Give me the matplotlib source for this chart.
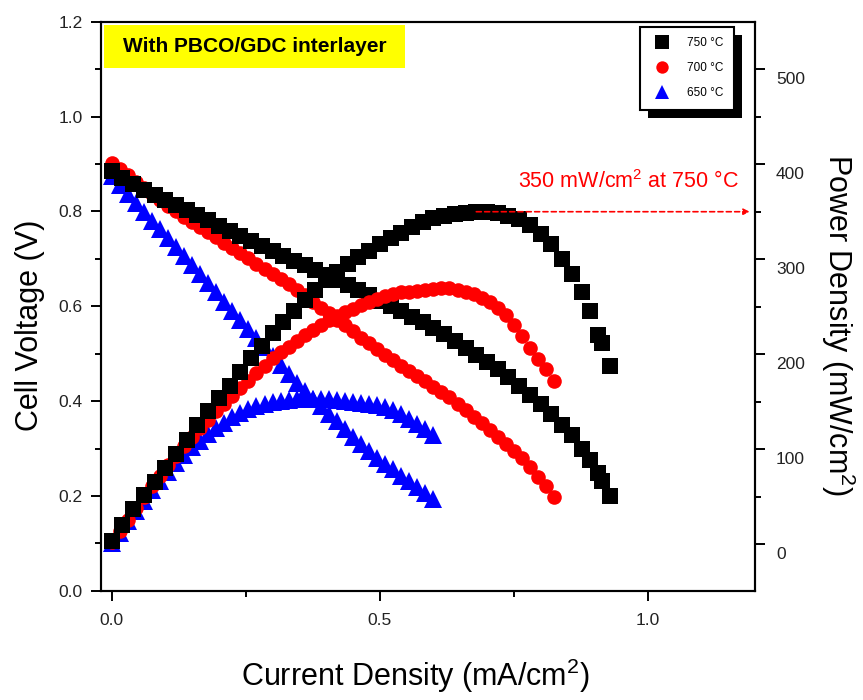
import matplotlib
matplotlib.use("Agg")
import matplotlib.pyplot as plt
from matplotlib.patches import Rectangle
from matplotlib.ticker import FixedLocator, MultipleLocator
from matplotlib.transforms import ScaledTranslation

plt.rcParams['font.family'] = ['Liberation Sans', 'DejaVu Sans']
plt.rcParams['mathtext.fontset'] = 'custom'
plt.rcParams['mathtext.rm'] = 'Liberation Sans'
plt.rcParams['mathtext.it'] = 'Liberation Sans'

# ---- 750 C ----
cur_750 = [0.00, 0.02, 0.04, 0.06, 0.08, 0.10, 0.12, 0.14, 0.16, 0.18,
           0.20, 0.22, 0.24, 0.26, 0.28, 0.30, 0.32, 0.34, 0.36, 0.38,
           0.40, 0.42, 0.44, 0.46, 0.48, 0.50, 0.52, 0.54, 0.56, 0.58,
           0.60, 0.62, 0.64, 0.66, 0.68, 0.70, 0.72, 0.74, 0.76, 0.78,
           0.80, 0.82, 0.84, 0.858, 0.877, 0.892, 0.907, 0.914, 0.929]
volt_750 = [0.885, 0.870, 0.857, 0.846, 0.835, 0.825, 0.814, 0.803, 0.792, 0.781,
            0.770, 0.759, 0.748, 0.737, 0.727, 0.717, 0.707, 0.696, 0.686, 0.676,
            0.666, 0.656, 0.645, 0.634, 0.623, 0.612, 0.601, 0.590, 0.578, 0.566,
            0.554, 0.541, 0.527, 0.513, 0.498, 0.483, 0.467, 0.450, 0.432, 0.413,
            0.393, 0.372, 0.350, 0.328, 0.300, 0.275, 0.248, 0.232, 0.200]
power_750 = [3, 20, 37, 52, 66, 80, 95, 110, 125, 140,
             154, 167, 181, 196, 209, 222, 234, 246, 257, 268,
             278, 287, 295, 302, 309, 316, 322, 328, 334, 339,
             343, 346, 348, 349, 350, 350, 349, 346, 342, 336,
             327, 316, 300, 284, 265, 245, 220, 212, 188]

# ---- 700 C ----
cur_700 = [0.000, 0.015, 0.030, 0.045, 0.060, 0.075, 0.090, 0.105, 0.120, 0.135,
           0.150, 0.165, 0.180, 0.195, 0.210, 0.225, 0.240, 0.255, 0.270, 0.285,
           0.300, 0.315, 0.330, 0.345, 0.360, 0.375, 0.390, 0.405, 0.420, 0.435,
           0.450, 0.465, 0.480, 0.495, 0.510, 0.525, 0.540, 0.555, 0.570, 0.585,
           0.600, 0.615, 0.630, 0.645, 0.660, 0.675, 0.690, 0.705, 0.720, 0.735,
           0.750, 0.765, 0.780, 0.795, 0.810, 0.825]
volt_700 = [0.903, 0.890, 0.877, 0.863, 0.850, 0.837, 0.824, 0.811, 0.800, 0.789,
            0.778, 0.767, 0.756, 0.745, 0.734, 0.723, 0.712, 0.701, 0.690, 0.679,
            0.668, 0.657, 0.646, 0.635, 0.623, 0.610, 0.597, 0.585, 0.572, 0.560,
            0.547, 0.534, 0.522, 0.509, 0.497, 0.486, 0.475, 0.464, 0.453, 0.442,
            0.430, 0.419, 0.408, 0.394, 0.381, 0.367, 0.354, 0.340, 0.325, 0.310,
            0.295, 0.280, 0.262, 0.240, 0.220, 0.198]
power_700 = [2, 14, 26, 38, 50, 61, 72, 83, 93, 103,
             113, 122, 131, 140, 148, 156, 164, 172, 180, 188,
             196, 202, 208, 214, 220, 225, 231, 236, 240, 244,
             248, 252, 255, 258, 261, 263, 265, 266, 267, 268,
             269, 270, 270, 268, 266, 263, 259, 255, 249, 241,
             231, 219, 207, 195, 184, 172]

# ---- 650 C ----
cur_650 = [0.000, 0.015, 0.030, 0.045, 0.060, 0.075, 0.090, 0.105, 0.120, 0.135,
           0.150, 0.165, 0.180, 0.195, 0.210, 0.225, 0.240, 0.255, 0.270, 0.285,
           0.300, 0.315, 0.330, 0.345, 0.360, 0.375, 0.390, 0.405, 0.420, 0.435,
           0.450, 0.465, 0.480, 0.495, 0.510, 0.525, 0.540, 0.555, 0.570, 0.585,
           0.600]
volt_650 = [0.875, 0.856, 0.837, 0.818, 0.799, 0.780, 0.762, 0.743, 0.724, 0.705,
            0.686, 0.667, 0.648, 0.629, 0.610, 0.591, 0.572, 0.553, 0.534, 0.515,
            0.496, 0.477, 0.458, 0.439, 0.421, 0.405, 0.389, 0.373, 0.357, 0.341,
            0.325, 0.309, 0.294, 0.281, 0.268, 0.256, 0.243, 0.231, 0.218, 0.206,
            0.193]
power_650 = [1, 12, 24, 35, 46, 57, 67, 76, 85, 94,
             102, 109, 116, 122, 128, 134, 138, 142, 145, 148,
             150, 151, 152, 153, 153, 153, 153, 153, 152, 151,
             150, 149, 148, 147, 144, 141, 137, 132, 127, 121,
             115]

labels = ['750 \u00b0C', '700 \u00b0C', '650 \u00b0C']
colors = ['black', 'red', 'blue']
markers = ['s', 'o', '^']
sizes = [12, 10.5, 12.5]

fig = plt.figure(figsize=(8.63, 7.0), dpi=100)
fig.patch.set_facecolor('white')
ax = fig.add_axes([0.117, 0.156, 0.758, 0.813])
ax2 = ax.twinx()

series = [(cur_750, volt_750, power_750),
          (cur_700, volt_700, power_700),
          (cur_650, volt_650, power_650)]

handles = []
for i in [2, 1, 0]:
    c, v, p = series[i]
    h, = ax.plot(c, v, linestyle='none', marker=markers[i], ms=sizes[i],
                 mfc=colors[i], mec=colors[i], mew=0, label=labels[i])
    ax2.plot(c, p, linestyle='none', marker=markers[i], ms=sizes[i],
             mfc=colors[i], mec=colors[i], mew=0)
    handles.append(h)
handles = handles[::-1]

# axes ranges and ticks
ax.set_xlim(-0.02, 1.2)
ax.set_ylim(0.0, 1.2)
ax2.set_ylim(-49, 550)
ax.xaxis.set_major_locator(FixedLocator([0.0, 0.5, 1.0]))
ax.xaxis.set_minor_locator(FixedLocator([0.25, 0.75]))
ax.yaxis.set_major_locator(MultipleLocator(0.2))
ax.yaxis.set_minor_locator(MultipleLocator(0.1))
ax2.yaxis.set_major_locator(FixedLocator([0, 100, 200, 300, 400, 500]))
ax2.yaxis.set_minor_locator(FixedLocator([50, 150, 250, 350, 450]))
ax.set_xticklabels(['0.0', '0.5', '1.0'])
ax.set_yticks([0.0, 0.2, 0.4, 0.6, 0.8, 1.0, 1.2])
ax.set_yticklabels(['0.0', '0.2', '0.4', '0.6', '0.8', '1.0', '1.2'])

for a in (ax, ax2):
    for s in a.spines.values():
        s.set_linewidth(1.5)
ax.tick_params(which='major', direction='out', length=7, width=1.4,
               labelsize=12.5, pad=6)
ax.tick_params(which='minor', direction='out', length=4.5, width=1.4)
ax.tick_params(axis='x', which='major', pad=9)
ax2.tick_params(which='major', direction='out', length=7, width=1.4,
                labelsize=12.5, pad=8)
ax2.tick_params(which='minor', direction='out', length=4.5, width=1.4)
ax.tick_params(axis='both', colors='black', labelcolor='#222222')
ax2.tick_params(axis='y', labelcolor='#222222')

# right-hand labels sit slightly below their ticks
shift = ScaledTranslation(0, -9 / 100, fig.dpi_scale_trans)
for t in ax2.yaxis.get_major_ticks():
    t.label2.set_transform(t.label2.get_transform() + shift)

ax.set_xlabel('Current Density (mA/cm$^{2}$)', fontsize=22)
ax.xaxis.set_label_coords(0.48, -0.116)
ax.set_ylabel('Cell Voltage (V)', fontsize=22)
ax.yaxis.set_label_coords(-0.085, 0.467)
ax2.set_ylabel('Power Density (mW/cm$^{2}$)', fontsize=22, rotation=270)
ax2.yaxis.set_label_coords(1.156, 0.467)

# title box
ax.add_patch(Rectangle((0.005, 0.919), 0.46, 0.076, transform=ax.transAxes,
                       facecolor='#ffff00', edgecolor='none', zorder=1))
ax.text(0.235, 0.957, 'With PBCO/GDC interlayer', transform=ax.transAxes,
        ha='center', va='center', fontsize=15, fontweight='bold', zorder=2)

# peak power marker
peak = max(power_750)
ax2.annotate('', xy=(1.19, peak), xytext=(0.68, peak),
             arrowprops=dict(arrowstyle='-|>', color='red', lw=1.2,
                             linestyle=(0, (3, 2)), mutation_scale=9,
                             shrinkA=0, shrinkB=0))
ax2.text(0.963, 382, '350 mW/cm$^{2}$ at 750 \u00b0C', color='red',
         ha='center', va='center', fontsize=15.5)

# legend with solid drop shadow
leg = ax2.legend(handles, labels, loc='upper left',
                 bbox_to_anchor=(0.824, 0.991), borderaxespad=0,
                 fontsize=8.5, frameon=True, fancybox=False, borderpad=0.9,
                 labelspacing=1.1, handlelength=2.0, handletextpad=1.1,
                 markerscale=0.85)
leg.get_frame().set_edgecolor('black')
leg.get_frame().set_linewidth(1.5)
leg.get_frame().set_facecolor('white')
leg.get_frame().set_alpha(1)
leg.set_zorder(10)

fig.canvas.draw()
bb = leg.get_frame().get_window_extent(fig.canvas.get_renderer())
inv = ax2.transAxes.inverted()
(x0, y0), (x1, y1) = inv.transform([(bb.x0 + 8, bb.y0 - 8), (bb.x1 + 8, bb.y1 - 8)])
ax2.add_patch(Rectangle((x0, y0), x1 - x0, y1 - y0, transform=ax2.transAxes,
                        facecolor='black', edgecolor='none', zorder=9,
                        clip_on=False))

fig.savefig('out.png', dpi=100)
